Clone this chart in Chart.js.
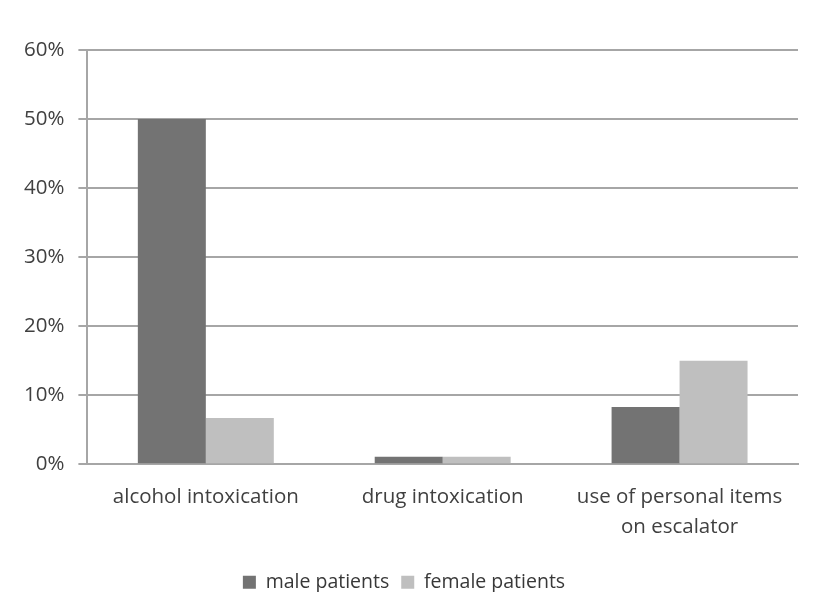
<!DOCTYPE html>
<html>
<head>
<meta charset="utf-8">
<script src="https://cdn.jsdelivr.net/npm/chart.js@4.4.1/dist/chart.umd.min.js"></script>
<style>
html,body{margin:0;padding:0;background:#fff;}
#wrap{width:818px;height:592px;}
</style>
</head>
<body>
<div id="wrap"><canvas id="c" width="818" height="592"></canvas></div>
<script>
const categories = [["alcohol intoxication"], ["drug intoxication"], ["use of personal items", "on escalator"]];
const seriesNames = ["male patients", "female patients"];
const maleValues = [50, 1.1, 8.3];
const femaleValues = [6.7, 1.1, 15];
const yTicks = [0, 10, 20, 30, 40, 50, 60];

const FONT = "'Open Sans', sans-serif";
const gridColor = '#a6a6a6';

new Chart(document.getElementById('c'), {
  type: 'bar',
  data: {
    labels: categories,
    datasets: [
      { label: seriesNames[0], data: maleValues, backgroundColor: '#737373', categoryPercentage: 0.574, barPercentage: 1.0 },
      { label: seriesNames[1], data: femaleValues, backgroundColor: '#bfbfbf', categoryPercentage: 0.574, barPercentage: 1.0 }
    ]
  },
  options: {
    responsive: false,
    animation: false,
    devicePixelRatio: 1,
    layout: { padding: { top: 50, right: 20, left: 10, bottom: -10 } },
    plugins: {
      tooltip: { enabled: false },
      legend: {
        position: 'bottom',
        labels: {
          boxWidth: 13, boxHeight: 13, padding: 12,
          color: '#383838',
          font: { family: FONT, size: 19.5 }
        }
      }
    },
    scales: {
      x: {
        grid: { display: false, drawTicks: false },
        border: { display: true, color: gridColor, width: 2 },
        ticks: { color: '#404040', font: { family: FONT, size: 20.5, lineHeight: 1.47 }, padding: 18, maxRotation: 0, autoSkip: false }
      },
      y: {
        min: 0, max: 60,
        afterBuildTicks: (axis) => { axis.ticks = yTicks.map(v => ({ value: v })); },
        grid: { color: gridColor, lineWidth: 2, tickLength: 9 },
        border: { display: true, color: gridColor, width: 2 },
        ticks: { color: '#404040', font: { family: FONT, size: 20.5 }, padding: 14, callback: v => v + '%' }
      }
    }
  }
});
</script>
</body>
</html>
